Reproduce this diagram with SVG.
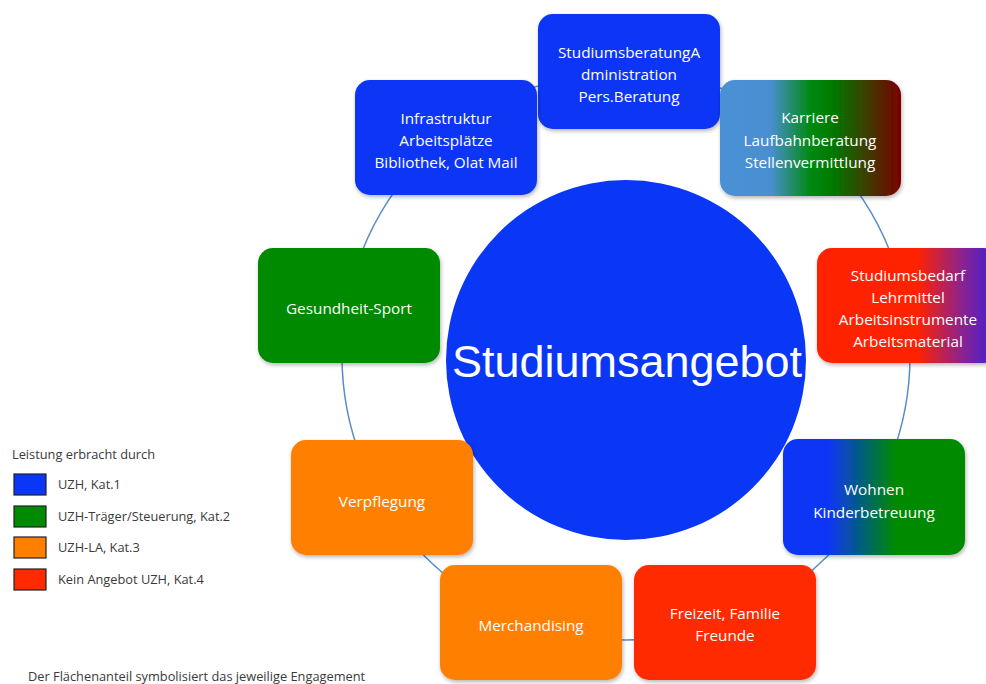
<svg xmlns="http://www.w3.org/2000/svg" width="986" height="684" viewBox="0 0 986 684">
<defs>
<style>
.nt{font-family:"Open Sans","Liberation Sans",Arial,sans-serif;font-size:15.3px;fill:#ffffff;text-anchor:middle}
.lg{font-family:"Open Sans","Liberation Sans",Arial,sans-serif;font-size:12.8px;fill:#3a3a3a}
.box{filter:url(#sh)}
.sw{stroke:#222;stroke-width:1.2}
</style>
<filter id="sh" x="-10%" y="-10%" width="125%" height="130%">
<feGaussianBlur in="SourceAlpha" stdDeviation="2"/>
<feOffset dx="1" dy="2"/>
<feComponentTransfer><feFuncA type="linear" slope="0.3"/></feComponentTransfer>
<feMerge><feMergeNode/><feMergeNode in="SourceGraphic"/></feMerge>
</filter>
<linearGradient id="gK" x1="0" x2="1" y1="0" y2="0">
<stop offset="0" stop-color="#4a90d6"/><stop offset="0.28" stop-color="#4a8fd0"/>
<stop offset="0.5" stop-color="#008a10"/><stop offset="0.62" stop-color="#007a00"/>
<stop offset="1" stop-color="#7a0000"/>
</linearGradient>
<linearGradient id="gS" x1="0" x2="1" y1="0" y2="0">
<stop offset="0" stop-color="#ff2200"/><stop offset="0.55" stop-color="#ff2200"/>
<stop offset="0.8" stop-color="#8a2090"/><stop offset="1" stop-color="#3322e0"/>
</linearGradient>
<linearGradient id="gW" x1="0" x2="1" y1="0" y2="0">
<stop offset="0" stop-color="#0a36f5"/><stop offset="0.25" stop-color="#0a36f5"/>
<stop offset="0.62" stop-color="#008a00"/><stop offset="1" stop-color="#008a00"/>
</linearGradient>
</defs>
<rect width="986" height="684" fill="#ffffff"/>

<g id="connectors">
<circle cx="626" cy="356" r="284" fill="none" stroke="#5b8cc8" stroke-width="1.5"/>
</g>

<g id="center">
<circle cx="626" cy="360" r="180" fill="#0a36f5"/>
<text x="627" y="377" font-family="'Liberation Sans',Arial,sans-serif" font-size="45" fill="#ffffff" text-anchor="middle">Studiumsangebot</text>
</g>

<g id="n-studiumsberatung">
<rect class="box" x="538" y="14" width="182" height="115" rx="15" fill="#0a36f5"/>
<text class="nt" x="629" y="58">StudiumsberatungA</text>
<text class="nt" x="629" y="80">dministration</text>
<text class="nt" x="629" y="102">Pers.Beratung</text>
</g>

<g id="n-infrastruktur">
<rect class="box" x="355" y="80" width="182" height="115" rx="15" fill="#0a36f5"/>
<text class="nt" x="446" y="124">Infrastruktur</text>
<text class="nt" x="446" y="146">Arbeitsplätze</text>
<text class="nt" x="446" y="168">Bibliothek, Olat Mail</text>
</g>

<g id="n-karriere">
<rect class="box" x="720" y="80" width="181" height="116" rx="15" fill="url(#gK)"/>
<text class="nt" x="810" y="123">Karriere</text>
<text class="nt" x="810" y="146">Laufbahnberatung</text>
<text class="nt" x="810" y="168">Stellenvermittlung</text>
</g>

<g id="n-studiumsbedarf">
<rect class="box" x="817" y="248" width="182" height="115" rx="15" fill="url(#gS)"/>
<text class="nt" x="908" y="281">Studiumsbedarf</text>
<text class="nt" x="908" y="303">Lehrmittel</text>
<text class="nt" x="908" y="325">Arbeitsinstrumente</text>
<text class="nt" x="908" y="347">Arbeitsmaterial</text>
</g>

<g id="n-gesundheit">
<rect class="box" x="258" y="248" width="182" height="115" rx="15" fill="#008a00"/>
<text class="nt" x="349" y="314">Gesundheit-Sport</text>
</g>

<g id="n-verpflegung">
<rect class="box" x="291" y="440" width="182" height="115" rx="15" fill="#ff7f00"/>
<text class="nt" x="382" y="507">Verpflegung</text>
</g>

<g id="n-wohnen">
<rect class="box" x="783" y="439" width="182" height="116" rx="15" fill="url(#gW)"/>
<text class="nt" x="874" y="495">Wohnen</text>
<text class="nt" x="874" y="518">Kinderbetreuung</text>
</g>

<g id="n-merchandising">
<rect class="box" x="440" y="565" width="182" height="115" rx="15" fill="#ff7f00"/>
<text class="nt" x="531" y="631">Merchandising</text>
</g>

<g id="n-freizeit">
<rect class="box" x="634" y="565" width="182" height="115" rx="15" fill="#ff2a00"/>
<text class="nt" x="725" y="619">Freizeit, Familie</text>
<text class="nt" x="725" y="641">Freunde</text>
</g>

<g id="legend">
<text class="lg" x="12" y="459">Leistung erbracht durch</text>
<rect class="sw" x="14" y="474" width="32" height="21" fill="#0a36f5"/>
<text class="lg" x="58" y="489">UZH, Kat.1</text>
<rect class="sw" x="14" y="506" width="32" height="21" fill="#008a00"/>
<text class="lg" x="58" y="521">UZH-Träger/Steuerung, Kat.2</text>
<rect class="sw" x="14" y="537" width="32" height="21" fill="#ff7f00"/>
<text class="lg" x="58" y="552">UZH-LA, Kat.3</text>
<rect class="sw" x="14" y="569" width="32" height="21" fill="#ff2a00"/>
<text class="lg" x="58" y="584">Kein Angebot UZH, Kat.4</text>
<text class="lg" x="28" y="681" font-size="13.5">Der Flächenanteil symbolisiert das jeweilige Engagement</text>
</g>
</svg>
